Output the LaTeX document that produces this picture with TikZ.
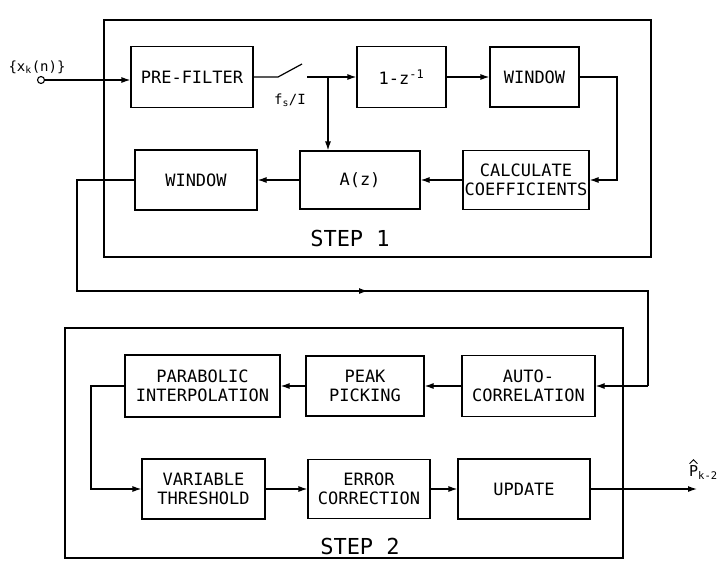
\documentclass[tikz,border=0pt]{standalone}
\usepackage{fontspec}
\setmainfont{DejaVu Sans}
\newfontfamily\labfont{DejaVu Sans Mono}
\usetikzlibrary{arrows.meta,calc}
\tikzset{
  blk/.style={draw, line width=1.2pt, inner sep=0pt, align=center,
    font=\labfont\fontsize{17}{19.5}\selectfont},
  conn/.style={line width=1.2pt},
  arr/.style={conn, -{Latex[length=9pt,width=6pt]}},
  frame/.style={draw, line width=1.2pt},
  steplabel/.style={font=\labfont\fontsize{22}{24}\selectfont, inner sep=0pt},
  smalllab/.style={font=\labfont\fontsize{13}{15}\selectfont, inner sep=0pt}
}
\begin{document}
\begin{tikzpicture}[x=1pt,y=-1pt]
\useasboundingbox (0,0) rectangle (726,563);
% frames
\draw[frame] (104,20) rectangle (651,257);
\draw[frame] (65,328) rectangle (623,558);
\node[steplabel] (s1lab) at (350,238.5) {STEP 1};
\node[steplabel] (s2lab) at (360,546) {STEP 2};
% step 1 blocks
\node[blk, minimum width=122pt, minimum height=61pt] (pf) at (192,77) {PRE-FILTER};
\node[blk, minimum width=89pt, minimum height=61pt] (zz) at (401.5,77) {1-z\textsuperscript{-1}};
\node[blk, minimum width=89pt, minimum height=60pt] (w1) at (534.5,77) {WINDOW};
\node[blk, minimum width=126pt, minimum height=59pt] (cc) at (526,180) {CALCULATE\\COEFFICIENTS};
\node[blk, minimum width=120pt, minimum height=58pt] (az) at (360,180) {A(z)};
\node[blk, minimum width=122pt, minimum height=60pt] (w2) at (196,180) {WINDOW};
% input
\node[draw, circle, line width=1.1pt, minimum size=7pt, inner sep=0pt] (in) at (41,80) {};
\node[smalllab, font=\labfont\fontsize{14}{16}\selectfont] (inlab) at (37,67) {\{x\textsubscript{k}(n)\}};
\draw[arr] (in.east) -- (in.east -| pf.west);
% switch
\coordinate (sw1) at (278,77);
\coordinate (swtip) at (302,64);
\coordinate (sw2) at (307,77);
\coordinate (jn) at (328,77);
\draw[conn] (pf.east) -- (sw1) -- (swtip);
\draw[arr] (sw2) -- (zz.west);
\node[smalllab, font=\labfont\fontsize{14}{16}\selectfont] (fslab) at (290,100) {f\textsubscript{s}/I};
\draw[arr] (jn) -- (jn |- az.north);
\draw[arr] (zz.east) -- (w1.west);
\coordinate (c1) at (617,180);
\draw[arr] (w1.east) -| (c1) -- (cc.east);
\draw[arr] (cc.west) -- (az.east);
\draw[arr] (az.west) -- (w2.east);
% loop between steps
\coordinate (l1) at (77,180);
\coordinate (l2) at (77,291);
\coordinate (lm) at (368,291);
\coordinate (l3) at (648,291);
\coordinate (l4) at (648,386);
% step 2 blocks
\node[blk, minimum width=133pt, minimum height=61pt] (ac) at (528.5,386) {AUTO-\\CORRELATION};
\node[blk, minimum width=118pt, minimum height=60pt] (pk) at (365,386) {PEAK\\PICKING};
\node[blk, minimum width=155pt, minimum height=62pt] (pi) at (202.5,386) {PARABOLIC\\INTERPOLATION};
\node[blk, minimum width=123pt, minimum height=60pt] (vt) at (203.5,489) {VARIABLE\\THRESHOLD};
\node[blk, minimum width=122pt, minimum height=59pt] (ec) at (369,489) {ERROR\\CORRECTION};
\node[blk, minimum width=132pt, minimum height=60pt] (up) at (524,489) {UPDATE};
\draw[conn] (w2.west) -- (l1) -- (l2) -- (l3) -- (l4);
\draw[arr] (l2) -- (lm);
\draw[arr] (l4) -- (ac.east);
\draw[arr] (ac.west) -- (pk.east);
\draw[arr] (pk.west) -- (pi.east);
\coordinate (p1) at (91,386);
\draw[arr] (pi.west) -- (p1) |- (vt.west);
\draw[arr] (vt.east) -- (ec.west);
\draw[arr] (ec.east) -- (up.west);
\coordinate (outc) at (697,489);
\draw[arr] (up.east) -- (outc);
\node[font=\labfont\fontsize{15}{17}\selectfont, inner sep=0pt, anchor=south west] (outlab) at (689,480) {P\textsubscript{k-2}};
\draw[line width=0.9pt] ($(outlab.north west)+(0.5,-2)$) -- ($(outlab.north west)+(4.5,-6)$) -- ($(outlab.north west)+(8.5,-2)$);
\end{tikzpicture}
\end{document}
